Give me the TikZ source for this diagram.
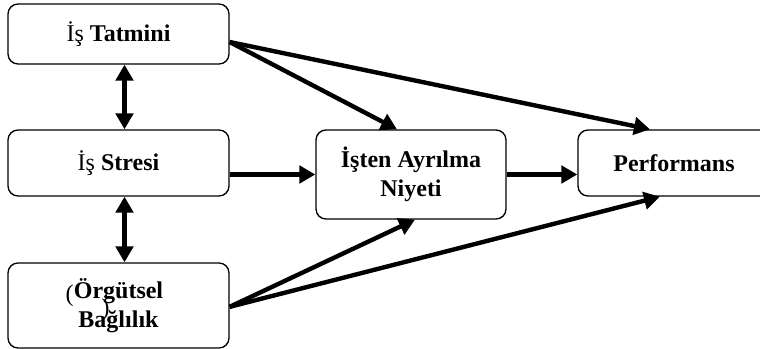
\documentclass[tikz,border=0pt]{standalone}
\usepackage{fontspec}
\setmainfont{Liberation Serif}
\usetikzlibrary{arrows.meta}
\tikzset{box/.style={draw,line width=1pt,rounded corners=7.5pt,align=center,
  font=\fontsize{18}{21.5}\selectfont,inner sep=0pt},
  arr/.style={line width=3.3pt,-{Triangle[length=12pt,width=13pt]}},
  darr/.style={line width=3.3pt,{Triangle[length=12pt,width=13pt]}-{Triangle[length=12pt,width=13pt]}}}
\begin{document}
\begin{tikzpicture}[x=0.75pt,y=-0.75pt]
\useasboundingbox(0,0)rectangle(760,349);
\node[box,minimum width=165.75pt,minimum height=45pt](v1)at(118.5,34){İş \textbf{Tatmini}};
\node[box,minimum width=165.75pt,minimum height=49.5pt](v2)at(118.5,163){İş \textbf{Stresi}};
\node[box,minimum width=142.5pt,minimum height=66.75pt](v3)at(411,174.5){\textbf{İşten Ayrılma}\\\textbf{Niyeti}};
\node[box,minimum width=144pt,minimum height=49.5pt](v4)at(674,163){\textbf{Performans}};
\node[box,minimum width=165.75pt,minimum height=63.75pt](v5)at(118.5,305.5){\textbf{Örgütsel}\\\textbf{Bağlılık}};
\node[font=\fontsize{18}{21.5}\selectfont,inner sep=0pt](p1)at(69.5,296){(};
\node[font=\fontsize{18}{21.5}\selectfont,inner sep=0pt](p2)at(105.5,310){)};

\draw[darr]([xshift=4.5pt]v1.south)--([xshift=4.5pt]v2.north);
\draw[darr]([xshift=4.5pt]v2.south)--([xshift=4.5pt]v5.north);
\draw[arr](v2.east|-v3.west)--(v3.west);
\draw[arr](v3.east)--(v3.east-|v4.west);
\draw[arr]([yshift=-6pt]v1.east)--([xshift=-10.5pt]v3.north);
\draw[arr]([yshift=-6pt]v1.east)--([xshift=-18pt]v4.north);
\draw[arr]([yshift=-1pt]v5.east)--([xshift=3pt]v3.south);
\draw[arr]([yshift=-1pt]v5.east)--([xshift=-10.5pt]v4.south);

\end{tikzpicture}
\end{document}
